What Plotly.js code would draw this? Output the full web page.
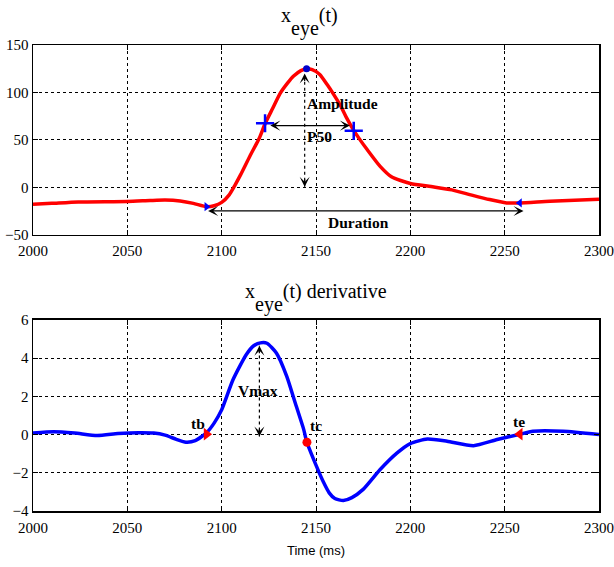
<!DOCTYPE html>
<html>
<head>
<meta charset="utf-8">
<script src="https://cdn.plot.ly/plotly-3.0.1.min.js"></script>
<style>html,body{margin:0;padding:0;background:#fff;}#chart{width:614px;height:567px;}</style>
</head>
<body>
<div id="chart"></div>
<script>
// ---- data: top panel, x_eye(t) ----
var tTop = [2000, 2010, 2024, 2050, 2062, 2070, 2078, 2085, 2092, 2096, 2100, 2104, 2107, 2110, 2115, 2120, 2123, 2127, 2131, 2135, 2138, 2142, 2145, 2148, 2152, 2156, 2159, 2163, 2166, 2170, 2173, 2177, 2184, 2190, 2200, 2211, 2222, 2232, 2242, 2251, 2258, 2274, 2300];
var xEye = [-18, -17, -15.5, -15, -14, -13.5, -14.5, -17, -20.5, -19.5, -16, -8, 2, 13, 33, 52, 67, 83, 99, 110, 117, 123, 125, 124, 119, 108, 99, 86, 74, 60, 51, 40, 22, 11, 4, 0.7, -2.8, -8, -13, -16.5, -16.5, -14.7, -12.6];
// ---- data: bottom panel, derivative ----
var tBot = [2000, 2011, 2022, 2034, 2045, 2056, 2064, 2070, 2076, 2081, 2086, 2092, 2096, 2100, 2106, 2113, 2117, 2120.5, 2124, 2129, 2134.5, 2139, 2143.5, 2145, 2150, 2154, 2157, 2160, 2164.5, 2169, 2175, 2184, 2193, 2200, 2209, 2219.5, 2233.5, 2246, 2257.5, 2265, 2281, 2300];
var dxEye = [0.08, 0.15, 0.08, -0.05, 0.05, 0.1, 0.08, -0.03, -0.25, -0.4, -0.32, 0.1, 0.6, 1.3, 2.87, 4.18, 4.65, 4.8, 4.78, 4.27, 3.05, 1.65, 0.26, -0.35, -1.6, -2.5, -3.05, -3.35, -3.45, -3.3, -2.87, -1.83, -0.96, -0.47, -0.23, -0.35, -0.58, -0.26, 0, 0.17, 0.17, 0];

// key points
var tbPoint = [2092, -20.5];
var tePoint = [2258, -16.5];
var peakPoint = [2145, 125];
var p50T = [2123, 2170];
var p50Y = [67.5, 59.5];
var tbDer = [2092, 0.02];
var tcDer = [2145.2, -0.4];
var teDer = [2258, 0.02];

// measurement arrows
var ampArrowX = 2144, ampArrowY = [0.5, 120];
var p50ArrowT = [2125, 2168], p50ArrowY = 65;
var durArrowT = [2092, 2260], durArrowY = -25;
var vmaxArrowX = 2120, vmaxArrowY = [-0.1, 4.65];

// tick labels
var xTicks = [2000, 2050, 2100, 2150, 2200, 2250, 2300];
var yTopTicks = [-50, 0, 50, 100, 150];
var yBotTicks = [-4, -2, 0, 2, 4, 6];

var serif = 'Liberation Serif, Times New Roman, serif';

var traces = [
  {x: tTop, y: xEye, xaxis: 'x', yaxis: 'y', mode: 'lines', line: {color: '#ff0000', width: 3.5, shape: 'spline', smoothing: 0.6}},
  {x: [ampArrowX, ampArrowX], y: ampArrowY, xaxis: 'x', yaxis: 'y', mode: 'lines', line: {color: 'black', width: 1.2, dash: 'dot'}},
  {x: [tbPoint[0]], y: [tbPoint[1]], xaxis: 'x', yaxis: 'y', mode: 'markers', marker: {symbol: 'triangle-right', size: 8, color: '#0000ff'}},
  {x: [tePoint[0]], y: [tePoint[1]], xaxis: 'x', yaxis: 'y', mode: 'markers', marker: {symbol: 'triangle-left', size: 8, color: '#0000ff'}},
  {x: [peakPoint[0]], y: [peakPoint[1]], xaxis: 'x', yaxis: 'y', mode: 'markers', marker: {symbol: 'circle', size: 7, color: '#0000cc'}},
  {x: p50T, y: p50Y, xaxis: 'x', yaxis: 'y', mode: 'markers', marker: {symbol: 'cross-thin', size: 13, line: {color: '#0000ff', width: 2.5}}},

  {x: tBot, y: dxEye, xaxis: 'x2', yaxis: 'y2', mode: 'lines', line: {color: '#0000ff', width: 3.5, shape: 'spline', smoothing: 0.6}},
  {x: [vmaxArrowX, vmaxArrowX], y: vmaxArrowY, xaxis: 'x2', yaxis: 'y2', mode: 'lines', line: {color: 'black', width: 1.2, dash: 'dot'}},
  {x: [tbDer[0]], y: [tbDer[1]], xaxis: 'x2', yaxis: 'y2', mode: 'markers', marker: {symbol: 'triangle-right', size: 11, color: '#ff0000'}},
  {x: [tcDer[0]], y: [tcDer[1]], xaxis: 'x2', yaxis: 'y2', mode: 'markers', marker: {symbol: 'circle', size: 9, color: '#ff0000'}},
  {x: [teDer[0]], y: [teDer[1]], xaxis: 'x2', yaxis: 'y2', mode: 'markers', marker: {symbol: 'triangle-left', size: 11, color: '#ff0000'}}
];

function axisBase() {
  return {
    showline: true, mirror: 'ticks', linecolor: 'black', linewidth: 1.5,
    ticks: 'inside', ticklen: 5, tickcolor: 'black', tickwidth: 1,
    showgrid: true, gridcolor: 'black', gridwidth: 1, griddash: 'dot',
    zeroline: false,
    tickfont: {family: serif, size: 15, color: 'black'}
  };
}
var xa = axisBase(); xa.range = [2000, 2300]; xa.tickvals = xTicks; xa.anchor = 'y'; xa.domain = [0, 1]; xa.ticklabelstandoff = 2;
var ya = axisBase(); ya.range = [-50, 150]; ya.tickvals = yTopTicks; ya.domain = [0.593, 1]; ya.anchor = 'x';
var xa2 = axisBase(); xa2.range = [2000, 2300]; xa2.tickvals = xTicks; xa2.anchor = 'y2'; xa2.domain = [0, 1]; xa2.ticklabelstandoff = 2;
xa2.title = {text: 'Time (ms)', font: {family: 'Liberation Sans, Arial, sans-serif', size: 13, color: 'black'}, standoff: 11};
var ya2 = axisBase(); ya2.range = [-4, 6]; ya2.tickvals = yBotTicks; ya2.domain = [0, 0.41]; ya2.anchor = 'x2';

var lab = {family: serif, size: 15.5, color: 'black', weight: 'bold'};
function dblArrow(xr, yr, x0, y0, x1, y1) {
  return {xref: xr, yref: yr, axref: xr, ayref: yr, x: x1, y: y1, ax: x0, ay: y0, text: '', showarrow: true,
    arrowhead: 3, startarrowhead: 3, arrowside: 'end+start', arrowsize: 1.4, startarrowsize: 1.4, arrowwidth: 1.2, arrowcolor: 'black'};
}
function head(xr, yr, x, y, dy) {
  return {xref: xr, yref: yr, x: x, y: y, ax: 0, ay: dy, text: '', showarrow: true, arrowhead: 3, arrowsize: 1.4, arrowwidth: 1.2, arrowcolor: 'black'};
}
var subTitle = function (rest) {
  return 'x<span style="baseline-shift:-13px">eye</span>' + rest;
};

var annotations = [
  {xref: 'paper', yref: 'paper', x: 0.4885, y: 1, yanchor: 'bottom', yshift: 3, showarrow: false, text: subTitle('(t)'), font: {family: serif, size: 20, color: 'black'}},
  {xref: 'paper', yref: 'paper', x: 0.5, y: 0.41, yanchor: 'bottom', yshift: 2, showarrow: false, text: subTitle('(t) derivative'), font: {family: serif, size: 20, color: 'black'}},
  {xref: 'x', yref: 'y', x: 2164, y: 88.5, showarrow: false, text: 'Amplitude', font: lab},
  {xref: 'x', yref: 'y', x: 2152, y: 54, showarrow: false, text: 'P50', font: lab},
  {xref: 'x', yref: 'y', x: 2172.5, y: -36.7, showarrow: false, text: 'Duration', font: lab},
  {xref: 'x2', yref: 'y2', x: 2119.5, y: 2.3, showarrow: false, text: 'Vmax', font: lab},
  {xref: 'x2', yref: 'y2', x: 2087.7, y: 0.58, showarrow: false, text: 'tb', font: lab},
  {xref: 'x2', yref: 'y2', x: 2149.8, y: 0.47, showarrow: false, text: 'tc', font: lab},
  {xref: 'x2', yref: 'y2', x: 2257.7, y: 0.71, showarrow: false, text: 'te', font: lab},
  dblArrow('x', 'y', p50ArrowT[0], p50ArrowY, p50ArrowT[1], p50ArrowY),
  dblArrow('x', 'y', durArrowT[0], durArrowY, durArrowT[1], durArrowY),
  head('x', 'y', ampArrowX, ampArrowY[1], 9),
  head('x', 'y', ampArrowX, ampArrowY[0], -9),
  head('x2', 'y2', vmaxArrowX, vmaxArrowY[1], 9),
  head('x2', 'y2', vmaxArrowX, vmaxArrowY[0], -9)
];

var layout = {
  width: 614, height: 567,
  margin: {l: 33, r: 15, t: 45, b: 56},
  paper_bgcolor: 'white', plot_bgcolor: 'white',
  showlegend: false,
  xaxis: xa, yaxis: ya, xaxis2: xa2, yaxis2: ya2,
  annotations: annotations,
  font: {family: serif, color: 'black'}
};

Plotly.newPlot('chart', traces, layout, {staticPlot: true, displayModeBar: false});
</script>
</body>
</html>
